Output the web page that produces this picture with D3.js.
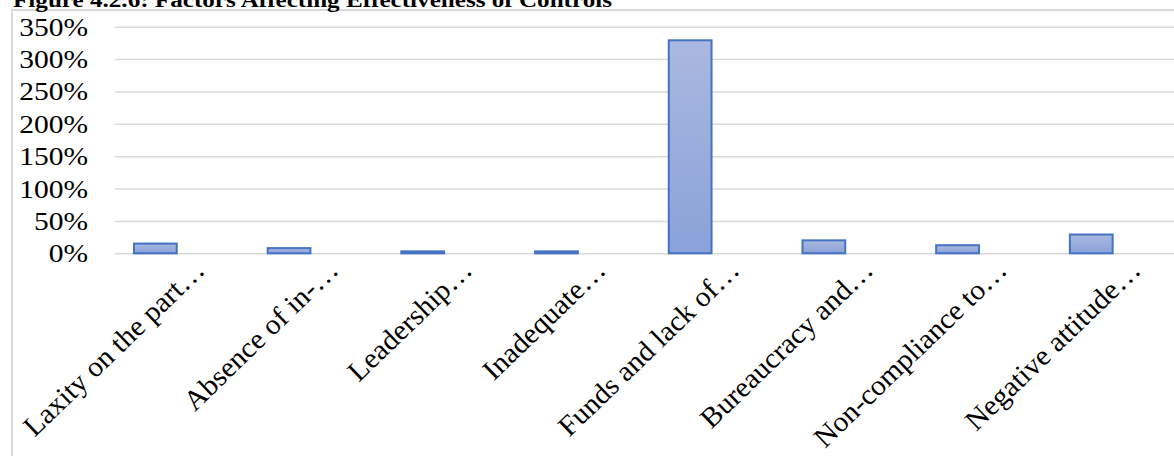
<!DOCTYPE html>
<html>
<head>
<meta charset="utf-8">
<script src="https://cdn.jsdelivr.net/npm/d3@7"></script>
<style>
  html, body { margin: 0; padding: 0; background: #ffffff; }
  svg { display: block; }
  text { font-family: "Liberation Serif", "Times New Roman", serif; fill: #000; }
</style>
</head>
<body>
<svg id="chart" width="1174" height="456"></svg>
<script>
// Factors affecting effectiveness of controls (share of respondents, %)
const categories = [
  "Laxity on the part\u2026",
  "Absence of in-\u2026",
  "Leadership\u2026",
  "Inadequate\u2026",
  "Funds and lack of\u2026",
  "Bureaucracy and\u2026",
  "Non-compliance to\u2026",
  "Negative attitude\u2026"
];
const values = [15, 8, 3, 3, 329, 20, 12.5, 29];
const yTicks = [0, 50, 100, 150, 200, 250, 300, 350];
const titleText = "Figure 4.2.6: Factors Affecting Effectiveness of Controls";

const W = 1174, H = 456;
const sx = 1.18;                 // horizontal stretch of the typeface
const frame = { left: 12, top: 10 };
const plot = { left: 88.5, right: 1158.1, gridLeft: 115, top: 26.7, bottom: 253.3 };

const svg = d3.select("#chart");

// gradient used for the bar fill
const defs = svg.append("defs");
const grad = defs.append("linearGradient")
  .attr("id", "barFill").attr("x1", 0).attr("y1", 0).attr("x2", 0).attr("y2", 1);
grad.append("stop").attr("offset", "0%").attr("stop-color", "#a9b8df");
grad.append("stop").attr("offset", "100%").attr("stop-color", "#8aa2d9");

// chart frame
svg.append("path")
  .attr("d", `M${frame.left},${H} V${frame.top} H${W}`)
  .attr("fill", "none").attr("stroke", "#d9d9d9").attr("stroke-width", 2);

// title
svg.append("text")
  .attr("transform", `translate(13,6.5) scale(${sx},1)`)
  .attr("font-weight", "bold")
  .attr("font-size", 21.3)
  .text(titleText);

const x = d3.scaleBand()
  .domain(categories)
  .range([plot.left, plot.right])
  .paddingInner(0.68)
  .paddingOuter(0.34);

const y = d3.scaleLinear()
  .domain([0, 350])
  .range([plot.bottom, plot.top]);

// y axis with gridlines
const yAxis = svg.append("g")
  .attr("transform", `translate(${plot.gridLeft},0)`)
  .call(d3.axisLeft(y)
    .tickValues(yTicks)
    .tickSizeInner(-(W - plot.gridLeft))
    .tickSizeOuter(0)
    .tickFormat(d => d + "%"));
yAxis.select(".domain").remove();
yAxis.selectAll(".tick line")
  .attr("stroke", "#d9d9d9").attr("stroke-width", 1.6);
yAxis.selectAll(".tick text")
  .attr("x", null).attr("dy", null)
  .attr("transform", `translate(-27,8.5) scale(${sx},1)`)
  .attr("text-anchor", "end")
  .attr("font-family", "Liberation Serif, Times New Roman, serif")
  .attr("font-size", 25)
  .attr("fill", "#000");

// bars
svg.append("g")
  .selectAll("rect")
  .data(values)
  .join("rect")
  .attr("x", (d, i) => x(categories[i]))
  .attr("y", d => y(d))
  .attr("width", x.bandwidth())
  .attr("height", d => y(0) - y(d))
  .attr("fill", "url(#barFill)")
  .attr("stroke", "#4472c4")
  .attr("stroke-width", 2);

// category axis with rotated labels
const xAxis = svg.append("g")
  .attr("transform", `translate(0,${plot.bottom})`)
  .call(d3.axisBottom(x).tickSize(0));
xAxis.select(".domain").remove();
xAxis.selectAll(".tick text")
  .attr("y", null).attr("dy", null)
  .attr("transform", `translate(51,18.5) rotate(-44) scale(1.03,1)`)
  .attr("text-anchor", "end")
  .attr("font-family", "Liberation Serif, Times New Roman, serif")
  .attr("font-size", 28.5)
  .attr("fill", "#000");
</script>
</body>
</html>
